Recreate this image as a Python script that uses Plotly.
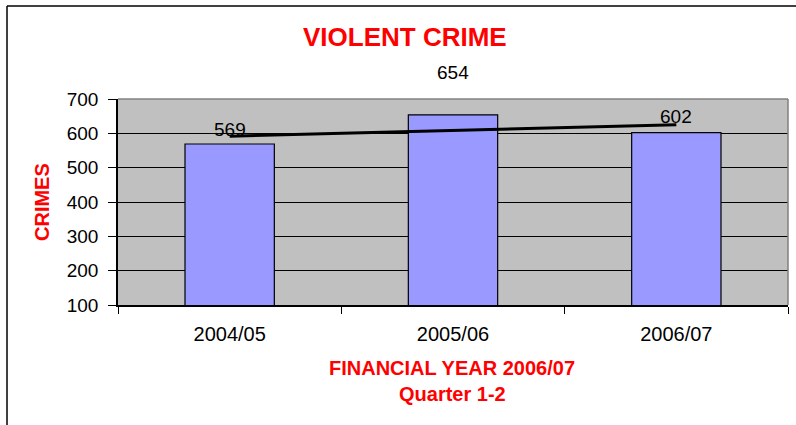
import numpy as np
import plotly.graph_objects as go

categories = ["2004/05", "2005/06", "2006/07"]
crimes = [569, 654, 602]
y_ticks = [100, 200, 300, 400, 500, 600, 700]

W, H = 796, 425
L, R, T, B = 118, 8, 99, 120
FONT = "Liberation Sans, Arial, sans-serif"
RED = "#FF0000"

x_idx = np.arange(len(categories))
slope, intercept = np.polyfit(x_idx, crimes, 1)
trend_y = slope * x_idx + intercept

fig = go.Figure()
fig.add_trace(go.Bar(
    x=categories, y=crimes,
    marker=dict(color="#9999FF", line=dict(color="black", width=1.2)),
    showlegend=False, hoverinfo="skip",
))
fig.add_trace(go.Scatter(
    x=[categories[0], categories[-1]], y=[trend_y[0], trend_y[-1]],
    mode="lines", line=dict(color="black", width=3),
    showlegend=False, hoverinfo="skip",
))

label_shift = [14, 42, 16]
for c, v, s in zip(categories, crimes, label_shift):
    fig.add_annotation(x=c, y=v, text=str(v), showarrow=False,
                       yanchor="middle", yshift=s,
                       font=dict(family=FONT, size=19, color="black"))

pw = W - L - R
ph = H - T - B
def px(xp):
    return (xp - L) / pw
def py(yp):
    return (H - B - yp) / ph

# outer frame (left and top visible)
fig.add_shape(type="line", xref="paper", yref="paper",
              x0=px(7), x1=px(7), y0=py(6), y1=py(430),
              line=dict(color="black", width=1.5))
fig.add_shape(type="line", xref="paper", yref="paper",
              x0=px(7), x1=px(800), y0=py(6), y1=py(6),
              line=dict(color="black", width=1.5))
# gray plot border top/right
fig.add_shape(type="line", xref="paper", yref="paper",
              x0=0, x1=1, y0=1, y1=1, line=dict(color="#808080", width=1.5))
fig.add_shape(type="line", xref="paper", yref="paper",
              x0=1, x1=1, y0=0, y1=1, line=dict(color="#808080", width=1.5))

fig.add_annotation(xref="paper", yref="paper", x=px(405), y=py(37),
                   text="<b>VIOLENT CRIME</b>", showarrow=False,
                   xanchor="center", yanchor="middle",
                   font=dict(family=FONT, size=26, color=RED))
fig.add_annotation(xref="paper", yref="paper", x=px(42), y=py(202),
                   text="<b>CRIMES</b>", showarrow=False, textangle=-90,
                   xanchor="center", yanchor="middle",
                   font=dict(family=FONT, size=20, color=RED))
fig.add_annotation(xref="paper", yref="paper", x=px(452), y=py(368),
                   text="<b>FINANCIAL YEAR 2006/07</b>", showarrow=False,
                   xanchor="center", yanchor="middle",
                   font=dict(family=FONT, size=20, color=RED))
fig.add_annotation(xref="paper", yref="paper", x=px(452), y=py(394),
                   text="<b>Quarter 1-2</b>", showarrow=False,
                   xanchor="center", yanchor="middle",
                   font=dict(family=FONT, size=20, color=RED))

fig.update_layout(
    width=W, height=H,
    margin=dict(l=L, r=R, t=T, b=B, autoexpand=False),
    paper_bgcolor="white", plot_bgcolor="#C0C0C0",
    bargap=0.6,
    font=dict(family=FONT, size=18, color="black"),
)
fig.update_xaxes(
    type="category", range=[-0.5, 2.5],
    showline=True, linecolor="black", linewidth=1.5,
    ticks="outside", tickson="boundaries", ticklen=7, tickcolor="black",
    ticklabelstandoff=10,
    showgrid=False, tickfont=dict(family=FONT, size=20, color="black"),
)
fig.update_yaxes(
    range=[100, 700], tickvals=y_ticks,
    showline=True, linecolor="black", linewidth=1.5,
    ticks="outside", ticklen=8, tickcolor="black",
    ticklabelstandoff=6,
    showgrid=True, gridcolor="black", gridwidth=1,
    zeroline=False, tickfont=dict(family=FONT, size=19, color="black"),
)

fig.write_html("out.html", config={"displayModeBar": False},
               post_script="document.body.style.margin='0';")
